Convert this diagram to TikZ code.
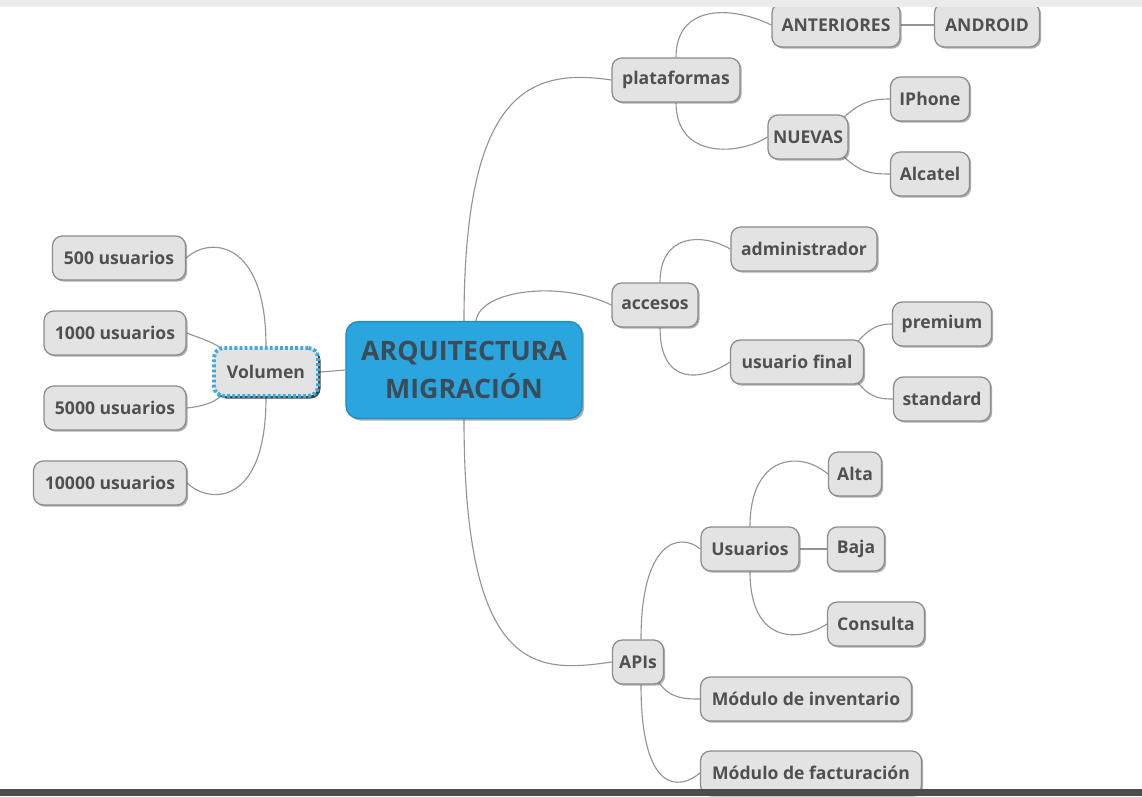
\documentclass[tikz,border=0pt]{standalone}
\usepackage{fontspec}
\setmainfont{Open Sans}
\usetikzlibrary{shadows,calc}
\definecolor{nodefill}{HTML}{E3E3E3}
\definecolor{nodedraw}{HTML}{8C8C8C}
\definecolor{nodetext}{HTML}{505050}
\definecolor{linecol}{HTML}{949494}
\definecolor{centfill}{HTML}{2AA5DE}
\definecolor{centdraw}{HTML}{1F8BC0}
\definecolor{centtext}{HTML}{3B4B57}
\definecolor{dotblue}{HTML}{3FA9DC}
\pgfdeclarelayer{bg}
\pgfsetlayers{bg,main}
\tikzset{
 topic/.style={draw=nodedraw, line width=0.9pt, fill=nodefill, rounded corners=7pt,
   minimum height=1.1cm, inner sep=2pt, font=\fontsize{12.5}{14}\selectfont\bfseries,
   text=nodetext, drop shadow={shadow xshift=1.2pt, shadow yshift=-1.2pt, opacity=0.45, fill=black!70}},
 central/.style={draw=centdraw, line width=0.9pt, fill=centfill, rounded corners=9pt,
   minimum width=5.9cm, minimum height=2.425cm, align=center,
   font=\fontsize{19}{27}\selectfont\bfseries, text=centtext,
   drop shadow={shadow xshift=1.5pt, shadow yshift=-1.5pt, opacity=0.45, fill=black!70}},
 volstyle/.style={topic, draw=dotblue, line width=2.8pt, dash pattern=on 2pt off 1.6pt,
   minimum height=1.2cm, drop shadow={shadow xshift=1.8pt, shadow yshift=-1.8pt, opacity=0.85, fill=black!85}},
 link/.style={draw=linecol, line width=0.8pt},
}
\begin{document}
\begin{tikzpicture}[x=0.025cm,y=-0.025cm]
\useasboundingbox (0,0) rectangle (1142,796);

% central
\node[central] (cen) at (464,370) {ARQUITECTURA\\MIGRACIÓN};
% volumen branch
\node[volstyle, minimum width=2.6cm] (vol) at (266,372) {Volumen};
\node[topic, minimum width=3.325cm] (u500) at (119,258) {500 usuarios};
\node[topic, minimum width=3.55cm] (u1000) at (115,333) {1000 usuarios};
\node[topic, minimum width=3.55cm] (u5000) at (115,408) {5000 usuarios};
\node[topic, minimum width=3.825cm] (u10000) at (110,483) {10000 usuarios};
% plataformas
\node[topic, minimum width=3.2cm] (plat) at (676,80) {plataformas};
\node[topic, minimum width=3.2cm] (ant) at (836,25) {ANTERIORES};
\node[topic, minimum width=2.625cm] (andr) at (987,25) {ANDROID};
\node[topic, minimum width=2cm] (nue) at (808,137) {NUEVAS};
\node[topic, minimum width=1.975cm] (iph) at (930,99) {IPhone};
\node[topic, minimum width=1.975cm] (alc) at (930,174) {Alcatel};
% accesos
\node[topic, minimum width=2.15cm] (acc) at (655,305) {accesos};
\node[topic, minimum width=3.65cm] (adm) at (804,249) {administrador};
\node[topic, minimum width=3.325cm] (uf) at (797,362) {usuario final};
\node[topic, minimum width=2.475cm] (prem) at (942,324) {premium};
\node[topic, minimum width=2.425cm] (std) at (942,399) {standard};
% APIs
\node[topic, minimum width=1.275cm] (apis) at (638,662) {APIs};
\node[topic, minimum width=2.45cm] (usu) at (750,549) {Usuarios};
\node[topic, minimum width=1.325cm] (alta) at (855,474) {Alta};
\node[topic, minimum width=1.425cm] (baja) at (856,549) {Baja};
\node[topic, minimum width=2.425cm] (cons) at (876,624) {Consulta};
\node[topic, minimum width=5.275cm] (inv) at (806,699) {Módulo de inventario};
\node[topic, minimum width=5.525cm] (fac) at (811,773) {Módulo de facturación};

\begin{pgfonlayer}{bg}
\fill[white] (0,0) rectangle (1142,796);
% from central
\draw[link] (cen.north) .. controls (464,90) and (530,68) .. (plat.west);
\draw[link] ($(cen.north)+(12,0)$) .. controls (480,290) and (560,280) .. (acc.west);
\draw[link] (cen.south) .. controls (464,680) and (540,672) .. (apis.west);
\draw[link] (vol.east) -- (cen.west);
% volumen
\draw[link] (vol.north) .. controls (266,240) and (210,236) .. (u500.east);
\draw[link] ($(vol.north west)+(10,3)$) .. controls (215,343) and (205,340) .. (u1000.east);
\draw[link] ($(vol.south west)+(10,-3)$) .. controls (215,402) and (205,406) .. (u5000.east);
\draw[link] (vol.south) .. controls (266,505) and (210,505) .. (u10000.east);
% plataformas
\draw[link] (plat.north) .. controls (676,5) and (730,5) .. (ant.west);
\draw[link] (plat.south) .. controls (676,160) and (740,155) .. (nue.west);
\draw[link] (ant.east) -- (andr.west);
\draw[link] ($(nue.north east)+(-5,3)$) .. controls (860,103) and (870,99) .. (iph.west);
\draw[link] ($(nue.south east)+(-5,-3)$) .. controls (860,172) and (870,174) .. (alc.west);
% accesos
\draw[link] ($(acc.north)+(5,0)$) .. controls (660,235) and (700,232) .. (adm.west);
\draw[link] ($(acc.south)+(5,0)$) .. controls (660,385) and (700,382) .. (uf.west);
\draw[link] ($(uf.north east)+(-7,3)$) .. controls (870,327) and (880,324) .. (prem.west);
\draw[link] ($(uf.south east)+(-7,-3)$) .. controls (870,398) and (880,399) .. (std.west);
% APIs
\draw[link] ($(apis.north)+(3,0)$) .. controls (641,540) and (680,532) .. (usu.west);
\draw[link] ($(apis.south east)+(-6,-3)$) .. controls (670,699) and (685,699) .. (inv.west);
\draw[link] ($(apis.south)+(3,0)$) .. controls (641,795) and (680,790) .. (fac.west);
% Usuarios
\draw[link] (usu.north) .. controls (750,455) and (800,450) .. (alta.west);
\draw[link] (usu.east) -- (baja.west);
\draw[link] (usu.south) .. controls (750,645) and (800,642) .. (cons.west);
\end{pgfonlayer}

% screen bands
\fill[black!8] (0,0) rectangle (1142,7);
\fill[black!70] (0,789) rectangle (1142,796);
\end{tikzpicture}
\end{document}
